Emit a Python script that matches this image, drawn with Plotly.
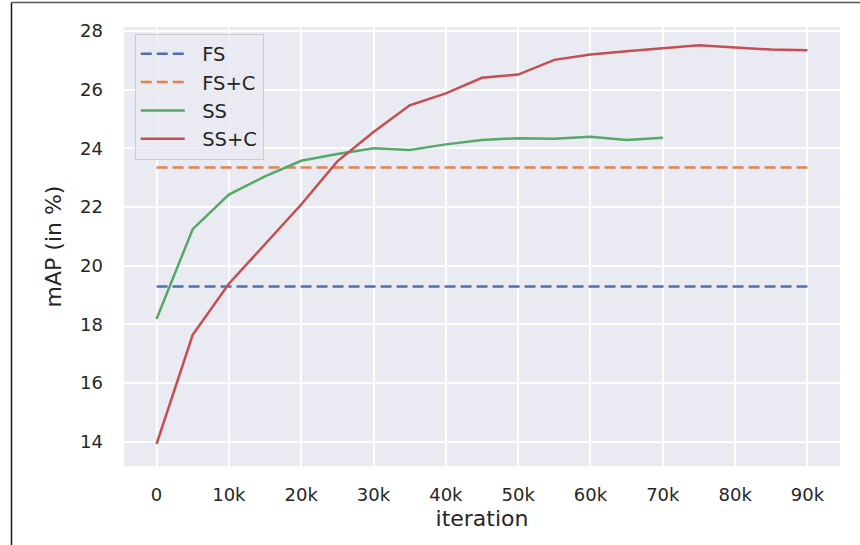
import plotly.graph_objects as go

# Training iterations (in thousands) and mAP values (%)
iters_ss = [0, 5, 10, 15, 20, 25, 30, 35, 40, 45, 50, 55, 60, 65, 70]
map_ss = [18.18, 21.24, 22.42, 23.04, 23.57, 23.80, 24.00, 23.94, 24.13,
          24.28, 24.34, 24.32, 24.39, 24.28, 24.36]

iters_ssc = [0, 5, 10, 15, 20, 25, 30, 35, 40, 45, 50, 55, 60, 65, 70, 75, 80, 85, 90]
map_ssc = [13.92, 17.64, 19.38, 20.73, 22.08, 23.55, 24.55, 25.46, 25.87,
           26.40, 26.51, 27.01, 27.19, 27.30, 27.41, 27.51, 27.43, 27.36, 27.34]

iters_fs = [0, 90]
map_fs = 19.29
map_fsc = 23.34

x_tickvals = [0, 10, 20, 30, 40, 50, 60, 70, 80, 90]
x_ticktext = ["0", "10k", "20k", "30k", "40k", "50k", "60k", "70k", "80k", "90k"]
y_tickvals = [14, 16, 18, 20, 22, 24, 26, 28]

BLUE, ORANGE, GREEN, RED = "#4C72B0", "#DD8452", "#55A868", "#C44E52"
TEXT = "#262626"
FONT = "DejaVu Sans"
PAD = "\u00a0\u00a0"  # gap between legend sample and its label

fig = go.Figure()
fig.add_trace(go.Scatter(x=[k * 1000 for k in iters_fs], y=[map_fs] * len(iters_fs),
                         mode="lines", name=PAD + "FS",
                         line=dict(color=BLUE, width=2.5, dash="11px,5px")))
fig.add_trace(go.Scatter(x=[k * 1000 for k in iters_fs], y=[map_fsc] * len(iters_fs),
                         mode="lines", name=PAD + "FS+C",
                         line=dict(color=ORANGE, width=2.5, dash="11px,5px")))
fig.add_trace(go.Scatter(x=[k * 1000 for k in iters_ss], y=map_ss,
                         mode="lines", name=PAD + "SS",
                         line=dict(color=GREEN, width=2.5)))
fig.add_trace(go.Scatter(x=[k * 1000 for k in iters_ssc], y=map_ssc,
                         mode="lines", name=PAD + "SS+C",
                         line=dict(color=RED, width=2.5)))

fig.update_layout(
    width=860, height=545,
    margin=dict(l=124, r=20, t=27, b=79),
    paper_bgcolor="white",
    plot_bgcolor="#EAEAF2",
    font=dict(family=FONT, size=18, color=TEXT),
    showlegend=True,
    legend=dict(x=0.015, y=0.985, xanchor="left", yanchor="top",
                bgcolor="rgba(234,234,242,0.85)", bordercolor="#CCCCCC",
                borderwidth=1, font=dict(family=FONT, size=19.5, color=TEXT),
                tracegroupgap=0, itemwidth=44),
    shapes=[
        # frame lines around the figure
        dict(type="line", xref="paper", yref="paper",
             x0=(11.5 - 124) / 716, x1=(11.5 - 124) / 716,
             y0=(466 - 2.5) / 439, y1=(466 - 546) / 439,
             line=dict(color="#1a1a1a", width=1.5)),
        dict(type="line", xref="paper", yref="paper",
             x0=(11.5 - 124) / 716, x1=(861 - 124) / 716,
             y0=(466 - 2.5) / 439, y1=(466 - 2.5) / 439,
             line=dict(color="#555555", width=1.5)),
    ],
)

fig.update_xaxes(
    range=[-4500, 94500],
    tickvals=[v * 1000 for v in x_tickvals], ticktext=x_ticktext,
    showgrid=True, gridcolor="white", gridwidth=1.5,
    zeroline=False, showline=False, ticks="",
    ticklabelstandoff=16,
    title=dict(text="iteration", font=dict(size=22, color=TEXT), standoff=6),
)
fig.update_yaxes(
    range=[13.17, 28.13],
    tickvals=y_tickvals,
    showgrid=True, gridcolor="white", gridwidth=1.5,
    zeroline=False, showline=False, ticks="",
    ticklabelstandoff=20,
    title=dict(text="mAP (in %)", font=dict(size=22, color=TEXT), standoff=12),
)

fig.write_html("out.html")
